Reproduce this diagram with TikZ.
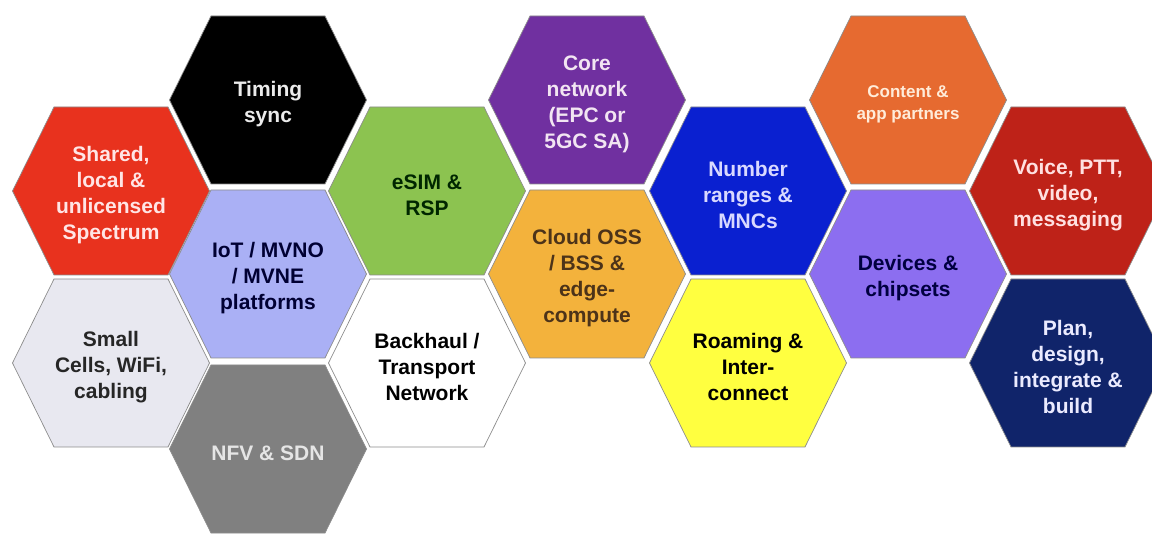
\documentclass[tikz,border=0pt]{standalone}
\usepackage{fontspec}
\setmainfont{Liberation Sans}
\usepackage{tikz}

\definecolor{sharedred}{HTML}{E8321E}
\definecolor{iotblue}{HTML}{AAB0F5}
\definecolor{smallgray}{HTML}{E8E8F0}
\definecolor{nfvgray}{HTML}{808080}
\definecolor{esimgreen}{HTML}{8CC350}
\definecolor{corepurple}{HTML}{7030A0}
\definecolor{cloudgold}{HTML}{F3B23C}
\definecolor{numberblue}{HTML}{0A20D0}
\definecolor{roamyellow}{HTML}{FFFF40}
\definecolor{contentorange}{HTML}{E66A30}
\definecolor{devicepurple}{HTML}{8C6EF0}
\definecolor{voicered}{HTML}{BE2218}
\definecolor{plannavy}{HTML}{10246A}

\tikzset{
  cell/.style={draw=black!45, line width=0.7pt},
  celltext/.style={align=center, yshift=-4pt, font=\fontsize{21}{26}\selectfont\bfseries},
  smalltext/.style={font=\fontsize{17}{22}\selectfont\bfseries},
}

% one honeycomb cell: [text options], name, centre, fill, text colour, text
\newcommand{\hexcell}[6][]{%
  \draw[cell, fill=#4] (#3) +(-98.5,0) -- +(-57,-84) -- +(57,-84) -- +(98.5,0)
    -- +(57,84) -- +(-57,84) -- cycle;
  \node[celltext, text=#5, #1] (#2) at (#3) {#6};}

\begin{document}
\begin{tikzpicture}[x=1pt, y={(0pt,-1pt)}]
  \useasboundingbox (0,0) rectangle (1152,534);
  % left block
  \hexcell{shared}{111,191}{sharedred}{red!10}{Shared,\\local \&\\unlicensed\\Spectrum}
  \hexcell{small}{111,363}{smallgray}{black!85}{Small\\Cells, WiFi,\\cabling}
  \hexcell{timing}{268,100}{black}{black!8}{Timing\\sync}
  \hexcell{iot}{268,274}{iotblue}{blue!20!black}{IoT / MVNO\\/ MVNE\\platforms}
  \hexcell{nfv}{268,449}{nfvgray}{black!10}{NFV \& SDN}
  \hexcell{esim}{427,191}{esimgreen}{green!15!black}{eSIM \&\\RSP}
  \hexcell{backhaul}{427,363}{white}{black}{Backhaul /\\Transport\\Network}
  % middle block
  \hexcell{core}{587,100}{corepurple}{violet!10}{Core\\network\\(EPC or\\5GC SA)}
  \hexcell{cloud}{587,274}{cloudgold}{brown!40!black}{Cloud OSS\\/ BSS \&\\edge-\\compute}
  \hexcell{number}{748,191}{numberblue}{blue!15}{Number\\ranges \&\\MNCs}
  \hexcell{roaming}{748,363}{roamyellow}{black}{Roaming \&\\Inter-\\connect}
  % right block
  \hexcell[smalltext]{content}{908,100}{contentorange}{orange!15}{Content \&\\app partners}
  \hexcell{devices}{908,274}{devicepurple}{blue!25!black}{Devices \&\\chipsets}
  \hexcell{voice}{1068,191}{voicered}{red!12}{Voice, PTT,\\video,\\messaging}
  \hexcell{plan}{1068,363}{plannavy}{blue!8}{Plan,\\design,\\integrate \&\\build}
\end{tikzpicture}
\end{document}
